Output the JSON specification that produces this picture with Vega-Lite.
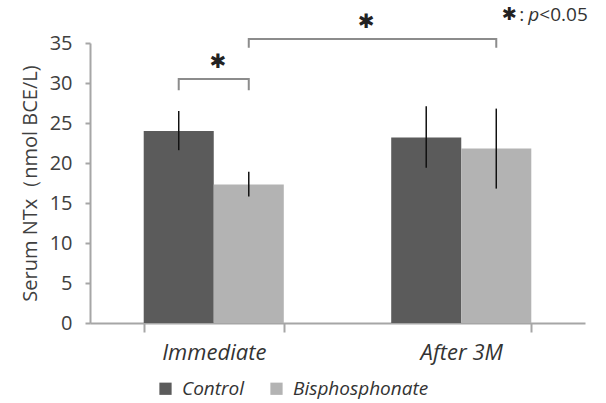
{
  "$schema": "https://vega.github.io/schema/vega-lite/v6.json",
  "width": 495,
  "height": 280,
  "autosize": "none",
  "padding": {"left": 90, "top": 43, "right": 21, "bottom": 80},
  "background": "white",
  "config": {"view": {"stroke": null}, "font": "Open Sans"},
  "datasets": {
    "bars": [
      {"time": "Immediate", "series": "Control", "mean": 24.0, "lo": 21.6, "hi": 26.5},
      {"time": "Immediate", "series": "Bisphosphonate", "mean": 17.3, "lo": 15.8, "hi": 18.9},
      {"time": "After 3M", "series": "Control", "mean": 23.2, "lo": 19.4, "hi": 27.1},
      {"time": "After 3M", "series": "Bisphosphonate", "mean": 21.8, "lo": 16.8, "hi": 26.8}
    ],
    "brackets": [
      {"bracket": "a", "time": "Immediate", "series": "Control", "y": 29.1, "ord": 0},
      {"bracket": "a", "time": "Immediate", "series": "Control", "y": 30.5, "ord": 1},
      {"bracket": "a", "time": "Immediate", "series": "Bisphosphonate", "y": 30.5, "ord": 2},
      {"bracket": "a", "time": "Immediate", "series": "Bisphosphonate", "y": 29.1, "ord": 3},
      {"bracket": "b", "time": "Immediate", "series": "Bisphosphonate", "y": 34.4, "ord": 0},
      {"bracket": "b", "time": "Immediate", "series": "Bisphosphonate", "y": 35.5, "ord": 1},
      {"bracket": "b", "time": "After 3M", "series": "Bisphosphonate", "y": 35.5, "ord": 2},
      {"bracket": "b", "time": "After 3M", "series": "Bisphosphonate", "y": 34.4, "ord": 3}
    ],
    "stars": [
      {"time": "Immediate", "y": 32.6, "label": "✱"}
    ],
    "stars2": [
      {"time": "After 3M", "y": 37.6, "label": "✱"}
    ],
    "note": [
      {"time": "After 3M", "y": 38.5}
    ]
  },
  "encoding": {
    "x": {
      "field": "time",
      "type": "nominal",
      "sort": ["Immediate", "After 3M"],
      "scale": {"domain": ["Immediate", "After 3M"], "paddingInner": 0.434, "paddingOuter": 0.217},
      "axis": {
        "title": null,
        "labelAngle": 0,
        "labelFontStyle": "italic",
        "labelFontSize": 22,
        "labelColor": "#333333",
        "labelPadding": 10,
        "tickBand": "extent",
        "tickSize": 9,
        "tickColor": "#a6a6a6",
        "tickWidth": 2,
        "domainColor": "#a6a6a6",
        "domainWidth": 2
      }
    }
  },
  "layer": [
    {
      "data": {"name": "bars"},
      "mark": {"type": "bar"},
      "encoding": {
        "xOffset": {"field": "series", "type": "nominal", "sort": ["Control", "Bisphosphonate"], "scale": {"domain": ["Control", "Bisphosphonate"], "paddingInner": 0, "paddingOuter": 0}},
        "y": {
          "field": "mean",
          "type": "quantitative",
          "scale": {"domain": [0, 35], "nice": false},
          "axis": {"title": "Serum NTx（nmol BCE/L)", "values": [0, 5, 10, 15, 20, 25, 30, 35], "labelOverlap": false, "grid": false, "domainColor": "#a6a6a6", "domainWidth": 2, "tickColor": "#a6a6a6", "tickWidth": 2, "tickSize": 5, "labelPadding": 13, "labelFontSize": 20, "labelColor": "#404040", "titleFontSize": 20, "titleFontWeight": "normal", "titleColor": "#404040", "titlePadding": 9}
        },
        "color": {
          "field": "series",
          "type": "nominal",
          "scale": {"domain": ["Control", "Bisphosphonate"], "range": ["#5b5b5b", "#b3b3b3"]},
          "legend": {
            "title": null,
            "orient": "none",
            "legendX": 66,
            "legendY": 336,
            "direction": "horizontal",
            "symbolType": "square",
            "symbolSize": 150,
            "symbolStrokeWidth": 0,
            "labelFontStyle": "italic",
            "labelFontSize": 19,
            "labelColor": "#333333",
            "labelOffset": 7,
            "columnPadding": 22
          }
        }
      }
    },
    {
      "data": {"name": "bars"},
      "mark": {"type": "rule", "color": "#111111", "strokeWidth": 1.5},
      "encoding": {
        "xOffset": {"field": "series", "type": "nominal", "sort": ["Control", "Bisphosphonate"]},
        "y": {"field": "lo", "type": "quantitative", "axis": {"title": "Serum NTx（nmol BCE/L)", "values": [0, 5, 10, 15, 20, 25, 30, 35], "labelOverlap": false, "grid": false, "domainColor": "#a6a6a6", "domainWidth": 2, "tickColor": "#a6a6a6", "tickWidth": 2, "tickSize": 5, "labelPadding": 13, "labelFontSize": 20, "labelColor": "#404040", "titleFontSize": 20, "titleFontWeight": "normal", "titleColor": "#404040", "titlePadding": 9}},
        "y2": {"field": "hi"}
      }
    },
    {
      "data": {"name": "brackets"},
      "mark": {"type": "line", "color": "#8c8c8c", "strokeWidth": 2, "clip": false},
      "encoding": {
        "xOffset": {"field": "series", "type": "nominal", "sort": ["Control", "Bisphosphonate"]},
        "y": {"field": "y", "type": "quantitative", "axis": {"title": "Serum NTx（nmol BCE/L)", "values": [0, 5, 10, 15, 20, 25, 30, 35], "labelOverlap": false, "grid": false, "domainColor": "#a6a6a6", "domainWidth": 2, "tickColor": "#a6a6a6", "tickWidth": 2, "tickSize": 5, "labelPadding": 13, "labelFontSize": 20, "labelColor": "#404040", "titleFontSize": 20, "titleFontWeight": "normal", "titleColor": "#404040", "titlePadding": 9}},
        "detail": {"field": "bracket"},
        "order": {"field": "ord", "type": "quantitative"}
      }
    },
    {
      "data": {"name": "stars"},
      "mark": {"type": "text", "font": "DejaVu Sans", "fontSize": 20, "color": "#222222", "dx": 4},
      "encoding": {
        "y": {"field": "y", "type": "quantitative", "axis": {"title": "Serum NTx（nmol BCE/L)", "values": [0, 5, 10, 15, 20, 25, 30, 35], "labelOverlap": false, "grid": false, "domainColor": "#a6a6a6", "domainWidth": 2, "tickColor": "#a6a6a6", "tickWidth": 2, "tickSize": 5, "labelPadding": 13, "labelFontSize": 20, "labelColor": "#404040", "titleFontSize": 20, "titleFontWeight": "normal", "titleColor": "#404040", "titlePadding": 9}},
        "text": {"field": "label"}
      }
    },
    {
      "data": {"name": "stars2"},
      "mark": {"type": "text", "font": "DejaVu Sans", "fontSize": 20, "color": "#222222", "dx": -25},
      "encoding": {
        "x": {"field": "time", "type": "nominal", "bandPosition": 0},
        "y": {"field": "y", "type": "quantitative", "axis": {"title": "Serum NTx（nmol BCE/L)", "values": [0, 5, 10, 15, 20, 25, 30, 35], "labelOverlap": false, "grid": false, "domainColor": "#a6a6a6", "domainWidth": 2, "tickColor": "#a6a6a6", "tickWidth": 2, "tickSize": 5, "labelPadding": 13, "labelFontSize": 20, "labelColor": "#404040", "titleFontSize": 20, "titleFontWeight": "normal", "titleColor": "#404040", "titlePadding": 9}},
        "text": {"field": "label"}
      }
    },
    {
      "data": {"name": "note"},
      "mark": {"type": "text", "font": "DejaVu Sans", "fontSize": 18, "color": "#222222", "align": "center", "dx": -22},
      "encoding": {
        "x": {"field": "time", "type": "nominal", "bandPosition": 1},
        "y": {"field": "y", "type": "quantitative", "axis": {"title": "Serum NTx（nmol BCE/L)", "values": [0, 5, 10, 15, 20, 25, 30, 35], "labelOverlap": false, "grid": false, "domainColor": "#a6a6a6", "domainWidth": 2, "tickColor": "#a6a6a6", "tickWidth": 2, "tickSize": 5, "labelPadding": 13, "labelFontSize": 20, "labelColor": "#404040", "titleFontSize": 20, "titleFontWeight": "normal", "titleColor": "#404040", "titlePadding": 9}},
        "text": {"value": "✱"}
      }
    },
    {
      "data": {"name": "note"},
      "mark": {"type": "text", "fontSize": 19, "color": "#333333", "align": "left", "dx": -12},
      "encoding": {
        "x": {"field": "time", "type": "nominal", "bandPosition": 1},
        "y": {"field": "y", "type": "quantitative", "axis": {"title": "Serum NTx（nmol BCE/L)", "values": [0, 5, 10, 15, 20, 25, 30, 35], "labelOverlap": false, "grid": false, "domainColor": "#a6a6a6", "domainWidth": 2, "tickColor": "#a6a6a6", "tickWidth": 2, "tickSize": 5, "labelPadding": 13, "labelFontSize": 20, "labelColor": "#404040", "titleFontSize": 20, "titleFontWeight": "normal", "titleColor": "#404040", "titlePadding": 9}},
        "text": {"value": ":"}
      }
    },
    {
      "data": {"name": "note"},
      "mark": {"type": "text", "fontSize": 19, "fontStyle": "italic", "color": "#333333", "align": "left", "dx": -3},
      "encoding": {
        "x": {"field": "time", "type": "nominal", "bandPosition": 1},
        "y": {"field": "y", "type": "quantitative", "axis": {"title": "Serum NTx（nmol BCE/L)", "values": [0, 5, 10, 15, 20, 25, 30, 35], "labelOverlap": false, "grid": false, "domainColor": "#a6a6a6", "domainWidth": 2, "tickColor": "#a6a6a6", "tickWidth": 2, "tickSize": 5, "labelPadding": 13, "labelFontSize": 20, "labelColor": "#404040", "titleFontSize": 20, "titleFontWeight": "normal", "titleColor": "#404040", "titlePadding": 9}},
        "text": {"value": "p"}
      }
    },
    {
      "data": {"name": "note"},
      "mark": {"type": "text", "fontSize": 19, "color": "#333333", "align": "left", "dx": 8},
      "encoding": {
        "x": {"field": "time", "type": "nominal", "bandPosition": 1},
        "y": {"field": "y", "type": "quantitative", "axis": {"title": "Serum NTx（nmol BCE/L)", "values": [0, 5, 10, 15, 20, 25, 30, 35], "labelOverlap": false, "grid": false, "domainColor": "#a6a6a6", "domainWidth": 2, "tickColor": "#a6a6a6", "tickWidth": 2, "tickSize": 5, "labelPadding": 13, "labelFontSize": 20, "labelColor": "#404040", "titleFontSize": 20, "titleFontWeight": "normal", "titleColor": "#404040", "titlePadding": 9}},
        "text": {"value": "<0.05"}
      }
    }
  ]
}
